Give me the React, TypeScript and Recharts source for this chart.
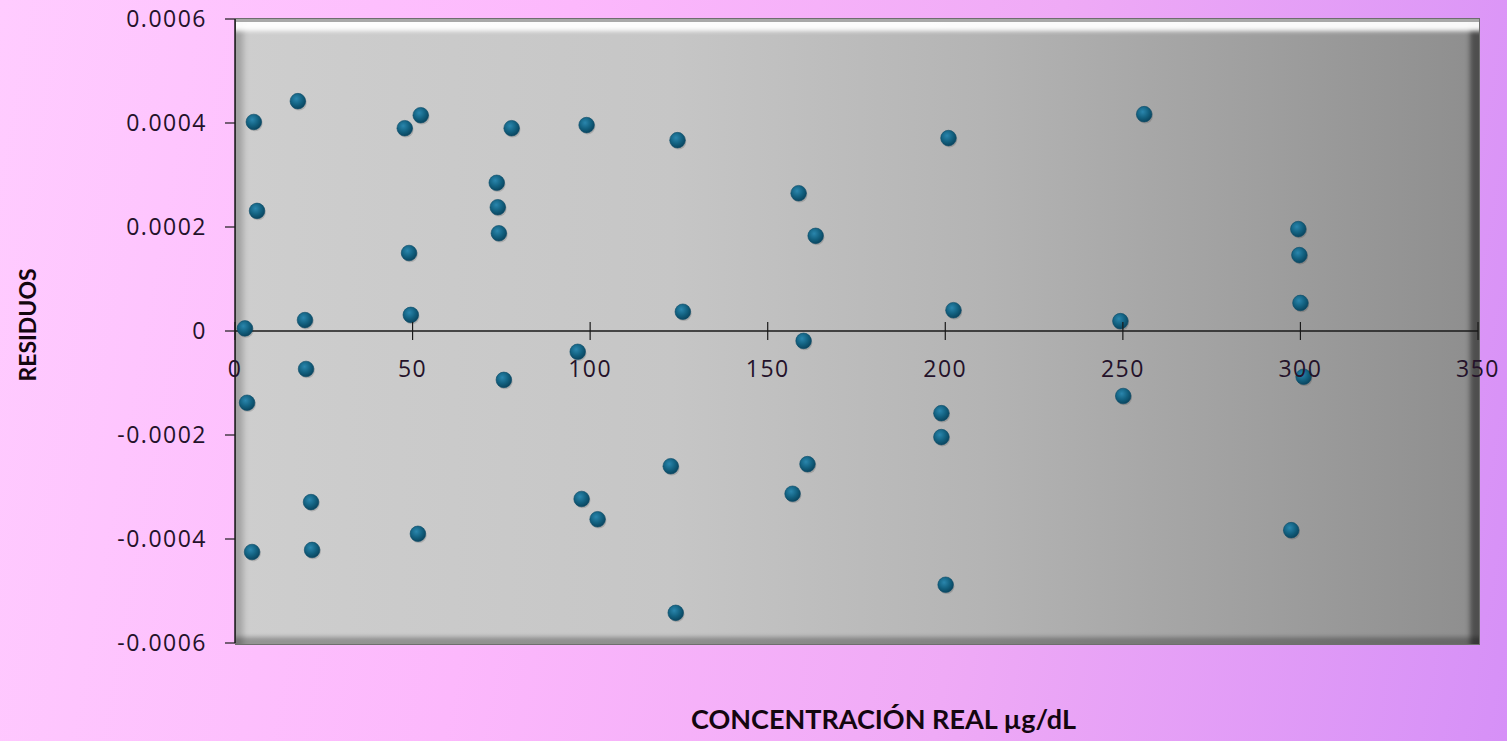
import React from "react";
import { ScatterChart, Scatter, XAxis, YAxis, ReferenceLine, Label } from "recharts";

const concentrations = [
  2.8, 5.3, 6.2, 3.4, 4.8, 17.7, 19.7, 20.0, 21.4, 21.7,
  47.8, 52.3, 49.0, 49.5, 51.5, 73.7, 74.0, 74.3, 77.9, 75.7,
  99.0, 96.5, 97.6, 102.1, 124.6, 126.1, 122.7, 124.1,
  158.7, 163.5, 160.1, 161.2, 157.0,
  200.9, 202.3, 198.9, 198.9, 200.1,
  256.0, 249.3, 250.1,
  299.4, 299.7, 300.0, 300.9, 297.4,
];

const residuals = [
  0.000005, 0.000402, 0.000231, -0.000138, -0.000425, 0.000442, 0.000021, -0.000073, -0.000329, -0.000421,
  0.00039, 0.000415, 0.00015, 0.000031, -0.00039, 0.000285, 0.000238, 0.000188, 0.00039, -0.000094,
  0.000396, -0.00004, -0.000323, -0.000362, 0.000367, 0.000037, -0.00026, -0.000542,
  0.000265, 0.000183, -0.000019, -0.000256, -0.000313,
  0.000371, 0.00004, -0.000158, -0.000204, -0.000488,
  0.000417, 0.000019, -0.000125,
  0.000196, 0.000146, 0.000054, -0.000088, -0.000383,
];

const xTicks = [0, 50, 100, 150, 200, 250, 300, 350];
const yTicks = [-0.0006, -0.0004, -0.0002, 0, 0.0002, 0.0004, 0.0006];

const data = concentrations.map((x, i) => ({ x, y: residuals[i] }));

const W = 1507;
const H = 741;
const M = { top: 19, right: 29, bottom: 0, left: 0 };
const Y_W = 235;
const X_H = 98;
const PLOT_H = H - M.top - M.bottom - X_H;

const tickFont = { fontFamily: "'Open Sans', sans-serif", fontSize: 23, letterSpacing: 1.5, fill: "#24122a" };
const titleFont = { fontFamily: "Lato, sans-serif", fontSize: 27, fontWeight: 700, fill: "#14060f" };

const XTick = (props: any) => {
  const { x, y, payload } = props;
  const zeroY = y - PLOT_H / 2;
  return (
    <g>
      <line x1={x} x2={x} y1={zeroY - 9} y2={zeroY + 9} stroke="#1a1a1a" strokeWidth={1.2} />
      <text x={x} y={zeroY + 40} textAnchor="middle" dominantBaseline="middle" {...tickFont}>
        {payload.value}
      </text>
    </g>
  );
};

const Dot = (props: any) => {
  const { cx, cy } = props;
  if (cx == null || cy == null) return null;
  return (
    <g>
      <circle cx={cx + 1} cy={cy + 1.5} r={7.8} fill="rgba(0,0,0,0.15)" />
      <circle cx={cx} cy={cy} r={7.8} fill="url(#dotGrad)" stroke="#0b4a66" strokeWidth={0.6} />
    </g>
  );
};

export default function App() {
  return (
    <div
      style={{
        position: "absolute",
        left: 0,
        top: 0,
        width: W,
        height: H,
        overflow: "hidden",
        background: "linear-gradient(100deg, #ffccff 0%, #fcb8fc 35%, #efaaf6 65%, #d690f7 100%)",
      }}
    >
      <svg width={0} height={0} style={{ position: "absolute" }}>
        <defs>
          <radialGradient id="dotGrad" cx="40%" cy="35%" r="65%">
            <stop offset="0%" stopColor="#2a86ad" />
            <stop offset="60%" stopColor="#12607f" />
            <stop offset="100%" stopColor="#0a4660" />
          </radialGradient>
        </defs>
      </svg>

      {/* beveled plot box */}
      <div
        style={{
          position: "absolute",
          left: Y_W,
          top: M.top - 1,
          width: W - M.right - Y_W + 2,
          height: PLOT_H + 3,
          boxSizing: "border-box",
          border: "1px solid #6e6e6e",
          background: "linear-gradient(90deg, #cecece 0%, #c6c6c6 35%, #b4b4b4 60%, #8e8e8e 100%)",
          boxShadow:
            "inset 0 3px 0 0 #a8a8a8, inset 0 20px 4px -8px rgba(255,255,255,0.95), inset -16px 0 5px -7px rgba(0,0,0,0.45), inset 14px 0 6px -7px rgba(0,0,0,0.22), inset 0 -14px 4px -7px rgba(0,0,0,0.28)",
        }}
      />

      <div style={{ position: "absolute", left: 0, top: 0 }}>
        <ScatterChart width={W} height={H} margin={M}>
          <XAxis
            type="number"
            dataKey="x"
            domain={[0, 350]}
            ticks={xTicks}
            height={X_H}
            axisLine={false}
            tickLine={false}
            tickSize={0}
            tickMargin={0}
            tick={<XTick />}
            interval={0}
          >
            <Label value="CONCENTRACIÓN REAL µg/dL" position="insideBottom" offset={12} dx={27} style={titleFont} />
          </XAxis>
          <YAxis
            type="number"
            dataKey="y"
            domain={[-0.0006, 0.0006]}
            ticks={yTicks}
            width={Y_W}
            interval={0}
            tickFormatter={(v: number) => (v === 0 ? "0" : v.toFixed(4))}
            tickSize={10}
            tickMargin={18}
            tick={tickFont}
            axisLine={{ stroke: "#1a1a1a", strokeWidth: 1.5 }}
            tickLine={{ stroke: "#1a1a1a", strokeWidth: 1.2 }}
          >
            <Label value="RESIDUOS" angle={-90} position="insideLeft" offset={28} dy={-6} style={{ ...titleFont, fontSize: 23, textAnchor: "middle" }} />
          </YAxis>
          <ReferenceLine y={0} stroke="#1a1a1a" strokeWidth={1.4} />
          <Scatter data={data} shape={<Dot />} isAnimationActive={false} />
        </ScatterChart>
      </div>
    </div>
  );
}
